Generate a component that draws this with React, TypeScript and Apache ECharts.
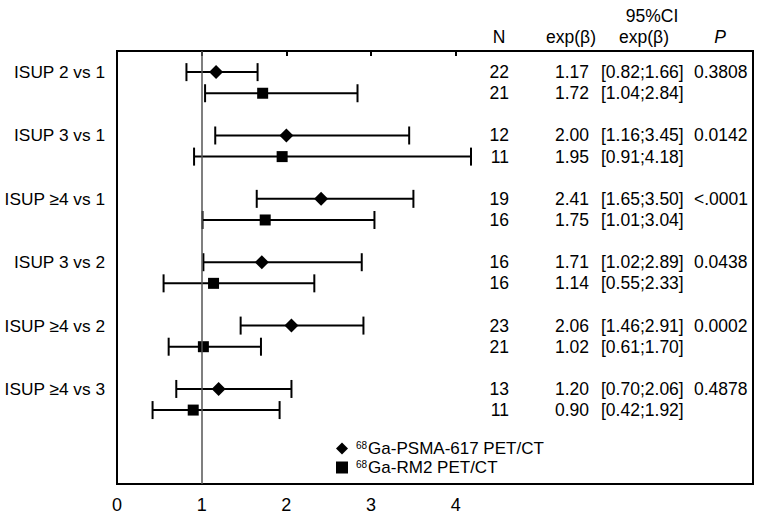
import React, { useEffect, useRef } from "react";
import * as echarts from "echarts";

const comparisons = ["ISUP 2 vs 1", "ISUP 3 vs 1", "ISUP ≥4 vs 1", "ISUP 3 vs 2", "ISUP ≥4 vs 2", "ISUP ≥4 vs 3"];

const psmaName = "68Ga-PSMA-617 PET/CT";
const psmaN = [22, 12, 19, 16, 23, 13];
const psmaExp = [1.17, 2.0, 2.41, 1.71, 2.06, 1.2];
const psmaLow = [0.82, 1.16, 1.65, 1.02, 1.46, 0.7];
const psmaHigh = [1.66, 3.45, 3.5, 2.89, 2.91, 2.06];
const psmaP = ["0.3808", "0.0142", "<.0001", "0.0438", "0.0002", "0.4878"];

const rm2Name = "68Ga-RM2 PET/CT";
const rm2N = [21, 11, 16, 16, 21, 11];
const rm2Exp = [1.72, 1.95, 1.75, 1.14, 1.02, 0.9];
const rm2Low = [1.04, 0.91, 1.01, 0.55, 0.61, 0.42];
const rm2High = [2.84, 4.18, 3.04, 2.33, 1.7, 1.92];

const xTicks = [0, 1, 2, 3, 4];
const refValue = 1;

const FONT = '"Liberation Sans", Arial, Helvetica, sans-serif';

// row slots on the (inverted) y value axis
const psmaRows = comparisons.map((_, i) => 1 + 3 * i);
const rm2Rows = comparisons.map((_, i) => 2 + 3 * i);

const fmt = (v: number) => v.toFixed(2);

function errorBarRender(params: any, api: any) {
  const y = api.value(0);
  const lo = api.coord([api.value(1), y]);
  const hi = api.coord([api.value(2), y]);
  const h = 9;
  const st = { stroke: "#000", lineWidth: 2 };
  return {
    type: "group",
    children: [
      { type: "line", shape: { x1: lo[0], y1: lo[1], x2: hi[0], y2: hi[1] }, style: st },
      { type: "line", shape: { x1: lo[0], y1: lo[1] - h, x2: lo[0], y2: lo[1] + h }, style: st },
      { type: "line", shape: { x1: hi[0], y1: hi[1] - h, x2: hi[0], y2: hi[1] + h }, style: st },
    ],
  };
}

function tableRender(nArr: number[], eArr: number[], lArr: number[], hArr: number[], pArr: string[] | null) {
  return (params: any, api: any) => {
    const i = params.dataIndex;
    const y = api.coord([0, api.value(1)])[1];
    const base = { fill: "#000", fontSize: 17.5, fontFamily: FONT, textVerticalAlign: "middle" };
    const children: any[] = [
      { type: "text", x: 509, y, style: { ...base, text: String(nArr[i]), textAlign: "right" } },
      { type: "text", x: 555, y, style: { ...base, text: fmt(eArr[i]), textAlign: "left" } },
      { type: "text", x: 601, y, style: { ...base, text: `[${fmt(lArr[i])};${fmt(hArr[i])}]`, textAlign: "left" } },
    ];
    if (pArr) children.push({ type: "text", x: 694, y, style: { ...base, text: pArr[i], textAlign: "left" } });
    return { type: "group", children };
  };
}

export default function App() {
  const ref = useRef<HTMLDivElement>(null);
  useEffect(() => {
    if (!ref.current) return;
    const chart = echarts.init(ref.current, null, { renderer: "svg" });
    const option: any = {
      animation: false,
      backgroundColor: "#fff",
      textStyle: { fontFamily: FONT, color: "#000" },
      grid: {
        left: 117,
        right: 7,
        top: 51,
        bottom: 35,
        show: true,
        borderColor: "#000",
        borderWidth: 2,
        backgroundColor: "transparent",
        containLabel: false,
        outerBoundsMode: "none",
      },
      xAxis: {
        type: "value",
        min: 0,
        max: 7.51,
        axisLine: { show: false },
        splitLine: { show: false },
        axisTick: {
          show: true,
          customValues: xTicks,
          length: 5,
          lineStyle: { color: "#000", width: 2 },
        },
        axisLabel: {
          show: true,
          customValues: xTicks,
          fontSize: 18,
          color: "#000",
          fontFamily: FONT,
          margin: 12,
        },
      },
      yAxis: {
        type: "value",
        inverse: true,
        min: 0,
        max: 20.5,
        axisLine: { show: false },
        axisTick: { show: false },
        splitLine: { show: false },
        axisLabel: {
          show: true,
          customValues: psmaRows,
          formatter: (v: number) => comparisons[psmaRows.indexOf(v)] ?? "",
          fontSize: 17.3,
          color: "#000",
          fontFamily: FONT,
          margin: 12,
        },
      },
      legend: {
        orient: "vertical",
        left: 336,
        top: 440,
        itemWidth: 12,
        itemHeight: 12,
        itemGap: 2,
        padding: 0,
        selectedMode: false,
        data: [
          { name: psmaName, icon: "diamond", itemStyle: { color: "#000", opacity: 1 } },
          { name: rm2Name, icon: "rect", itemStyle: { color: "#000", opacity: 1 } },
        ],
        formatter: (name: string) => `{s|68}{t|${name.slice(2)}}`,
        textStyle: {
          rich: {
            s: { fontSize: 10, fontFamily: FONT, color: "#000", padding: [0, 1, 7, 3] },
            t: { fontSize: 17, fontFamily: FONT, color: "#000" },
          },
        },
      },
      graphic: [
        { type: "text", x: 499, y: 37, style: { text: "N", fontSize: 17.5, fontFamily: FONT, fill: "#000", textAlign: "center", textVerticalAlign: "middle" } },
        { type: "text", x: 571, y: 37, style: { text: "exp(β)", fontSize: 17.5, fontFamily: FONT, fill: "#000", textAlign: "center", textVerticalAlign: "middle" } },
        { type: "text", x: 652, y: 16, style: { text: "95%CI", fontSize: 17.5, fontFamily: FONT, fill: "#000", textAlign: "center", textVerticalAlign: "middle" } },
        { type: "text", x: 644, y: 37, style: { text: "exp(β)", fontSize: 17.5, fontFamily: FONT, fill: "#000", textAlign: "center", textVerticalAlign: "middle" } },
        { type: "text", x: 720, y: 37, style: { text: "P", fontSize: 17.5, fontStyle: "italic", fontFamily: FONT, fill: "#000", textAlign: "center", textVerticalAlign: "middle" } },
      ],
      series: [
        {
          name: "ref",
          type: "custom",
          z: 1,
          data: [],
          renderItem: () => null,
          markLine: {
            silent: true,
            symbol: "none",
            label: { show: false },
            lineStyle: { color: "#555", width: 1.5, type: "solid" },
            data: [{ xAxis: refValue }],
          },
        },
        {
          name: psmaName + " CI",
          type: "custom",
          z: 2,
          renderItem: errorBarRender,
          encode: { x: [1, 2], y: 0 },
          data: psmaRows.map((r, i) => [r, psmaLow[i], psmaHigh[i]]),
        },
        {
          name: rm2Name + " CI",
          type: "custom",
          z: 2,
          renderItem: errorBarRender,
          encode: { x: [1, 2], y: 0 },
          data: rm2Rows.map((r, i) => [r, rm2Low[i], rm2High[i]]),
        },
        {
          name: psmaName,
          type: "scatter",
          z: 3,
          symbol: "diamond",
          symbolSize: 14,
          itemStyle: { color: "#000", opacity: 1 },
          data: psmaExp.map((v, i) => [v, psmaRows[i]]),
        },
        {
          name: rm2Name,
          type: "scatter",
          z: 3,
          symbol: "rect",
          symbolSize: 11,
          itemStyle: { color: "#000", opacity: 1 },
          data: rm2Exp.map((v, i) => [v, rm2Rows[i]]),
        },
        {
          name: "psmaTable",
          type: "custom",
          z: 4,
          renderItem: tableRender(psmaN, psmaExp, psmaLow, psmaHigh, psmaP),
          data: psmaRows.map((r) => [0, r]),
        },
        {
          name: "rm2Table",
          type: "custom",
          z: 4,
          renderItem: tableRender(rm2N, rm2Exp, rm2Low, rm2High, null),
          data: rm2Rows.map((r) => [0, r]),
        },
      ],
    };
    chart.setOption(option);
    return () => chart.dispose();
  }, []);
  return (
    <div
      ref={ref}
      style={{ position: "fixed", left: 0, top: 0, width: 760, height: 519, background: "#fff" }}
    />
  );
}
